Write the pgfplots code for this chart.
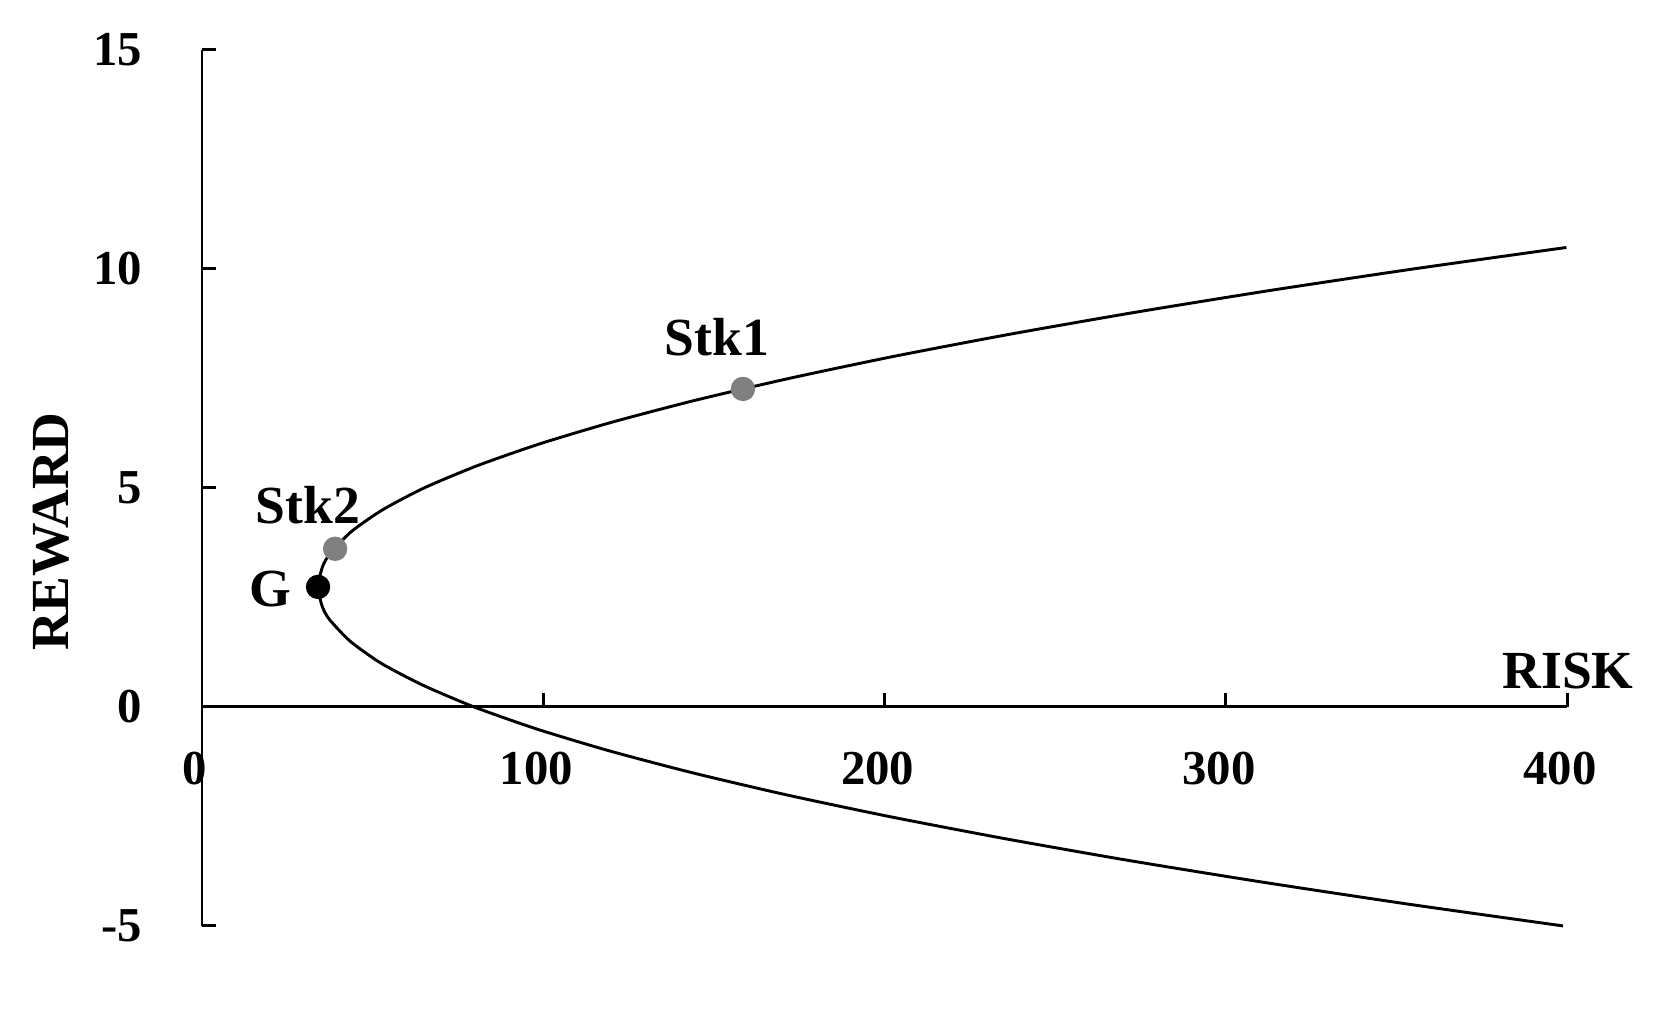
\documentclass[border=0pt]{standalone}
\usepackage{fontspec}
\setmainfont{Liberation Serif}
\usepackage{pgfplots}
\pgfplotsset{compat=1.18}
\definecolor{stkgray}{RGB}{128,128,128}

\begin{document}
\begin{tikzpicture}
\begin{axis}[
    scale only axis,
    width=9.844cm,
    height=6.317cm,
    xmin=0, xmax=400,
    ymin=-5, ymax=15,
    every non boxed x axis/.append style={xtick align=inside},
    every non boxed y axis/.append style={ytick align=inside},
    axis y line=left,
    axis x line=middle,
    axis line style={-, line width=0.6pt},
    hide obscured x ticks=false,
    hide obscured y ticks=false,
    xtick={0,100,200,300,400},
    ytick={-5,0,5,10,15},
    major tick length=0.1cm,
    tick style={black, line width=0.6pt},
    /pgf/number format/assume math mode=true,
    ticklabel style={font=\fontsize{10}{12}\selectfont\bfseries},
    xticklabel style={anchor=north, yshift=-0.2cm, xshift=-0.05cm},
    yticklabel style={anchor=east, xshift=-0.31cm},
    clip=false,
]
% efficient frontier
\addplot[black, line width=0.6pt, smooth, tension=0.4] coordinates {
    (399.8,10.49) (355.0,10.0) (312.3,9.5) (272.7,9.0) (236.1,8.5)
    (202.5,8.0) (172.0,7.5) (144.5,7.0) (120.1,6.5) (98.7,6.0)
    (80.4,5.5) (65.1,5.0) (52.9,4.5) (43.7,4.0) (37.5,3.5)
    (35.3,3.2) (34.0,2.74) (35.2,2.3) (37.3,2.0) (43.4,1.5)
    (52.4,1.0) (64.6,0.5) (79.7,0.0) (97.9,-0.5) (119.2,-1.0)
    (143.5,-1.5) (170.8,-2.0) (201.2,-2.5) (234.7,-3.0) (271.1,-3.5)
    (310.7,-4.0) (353.2,-4.5) (398.8,-5.0)
};
% portfolios
\addplot[only marks, mark=*, mark size=2.3pt, stkgray] coordinates {
    (158.5,7.26) (39.0,3.61)
};
\addplot[only marks, mark=*, mark size=2.3pt, black] coordinates {
    (34.0,2.74)
};
\node[font=\fontsize{11}{13}\selectfont\bfseries] at (axis cs:150.9,8.45) {Stk1};
\node[font=\fontsize{11}{13}\selectfont\bfseries] at (axis cs:31,4.61) {Stk2};
\node[font=\fontsize{11}{13}\selectfont\bfseries] at (axis cs:19.9,2.69) {G};
\node[font=\fontsize{11}{13}\selectfont\bfseries] at (axis cs:400.3,0.82) {RISK};
\node[font=\fontsize{11}{13}\selectfont\bfseries, rotate=90] at (axis cs:-44.2,4.0) {REWARD};
\coordinate (bl) at (axis cs:-59.2,-6.94);
\coordinate (tr) at (axis cs:428.4,16.14);
\end{axis}
\path (bl) rectangle (tr);
\end{tikzpicture}
\end{document}
